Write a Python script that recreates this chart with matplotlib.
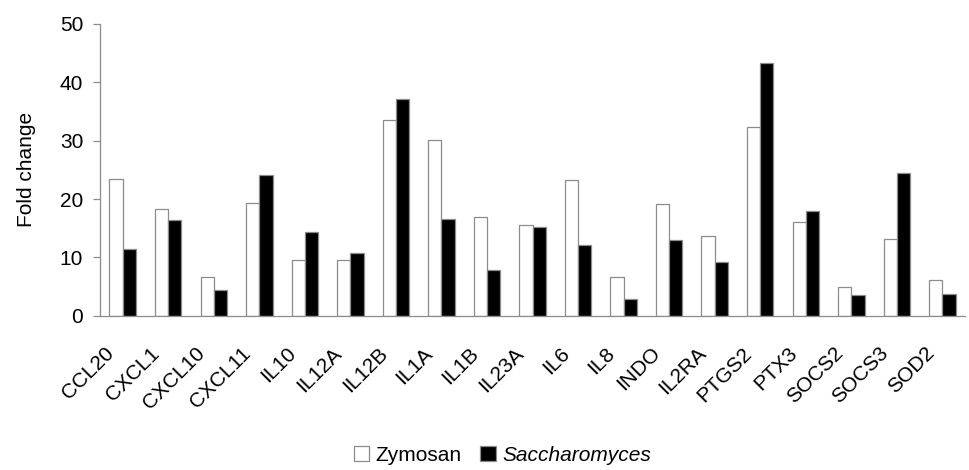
import matplotlib
matplotlib.use("Agg")
import matplotlib.pyplot as plt
import numpy as np

plt.rcParams['font.family'] = ['Liberation Sans', 'DejaVu Sans']

genes = ['CCL20', 'CXCL1', 'CXCL10', 'CXCL11', 'IL10', 'IL12A', 'IL12B', 'IL1A',
         'IL1B', 'IL23A', 'IL6', 'IL8', 'INDO', 'IL2RA', 'PTGS2', 'PTX3',
         'SOCS2', 'SOCS3', 'SOD2']
zymosan = [23.5, 18.3, 6.6, 19.4, 9.6, 9.6, 33.5, 30.1, 17.0, 15.6, 23.2, 6.6,
           19.1, 13.7, 32.3, 16.0, 5.0, 13.1, 6.2]
saccharomyces = [11.5, 16.4, 4.4, 24.2, 14.3, 10.7, 37.1, 16.6, 7.8, 15.3, 12.1, 2.9,
                 13.0, 9.2, 43.3, 17.9, 3.6, 24.4, 3.8]

x = np.arange(len(genes))
w = 0.29
edge = '#8c8c8c'
fs = 15

fig = plt.figure(figsize=(9.7, 4.7), dpi=100)
ax = fig.add_axes([0.103, 0.328, 0.892, 0.621])

ax.bar(x - w / 2, zymosan, w, color='white', edgecolor=edge, linewidth=0.9, label='Zymosan')
ax.bar(x + w / 2, saccharomyces, w, color='black', edgecolor=edge, linewidth=0.9,
       label='Saccharomyces')

ax.set_xlim(-0.5, len(genes) - 0.5)
ax.set_ylim(0, 50)
ax.set_yticks(range(0, 51, 10))
# labels end a little left of the group centre (x ticks are hidden)
ax.set_xticks(x - 0.4)
ax.set_xticklabels(genes, rotation=45, ha='right', va='top', rotation_mode='anchor',
                   fontsize=fs)
ax.tick_params(axis='y', labelsize=fs, length=5, color=edge, width=0.9, pad=7)
ax.tick_params(axis='x', length=0, pad=20)
ax.set_ylabel('Fold change', fontsize=fs)
ax.yaxis.set_label_coords(-0.074, 0.5)

for s in ['top', 'right']:
    ax.spines[s].set_visible(False)
for s in ['left', 'bottom']:
    ax.spines[s].set_color(edge)
    ax.spines[s].set_linewidth(0.9)

leg = fig.legend(loc='center', bbox_to_anchor=(0.518, 0.031), ncol=2, frameon=False,
                 fontsize=fs, handlelength=0.75, handleheight=0.75, handletextpad=0.3,
                 columnspacing=0.9)
leg.get_texts()[1].set_fontstyle('italic')

fig.savefig('out.png', dpi=100)
